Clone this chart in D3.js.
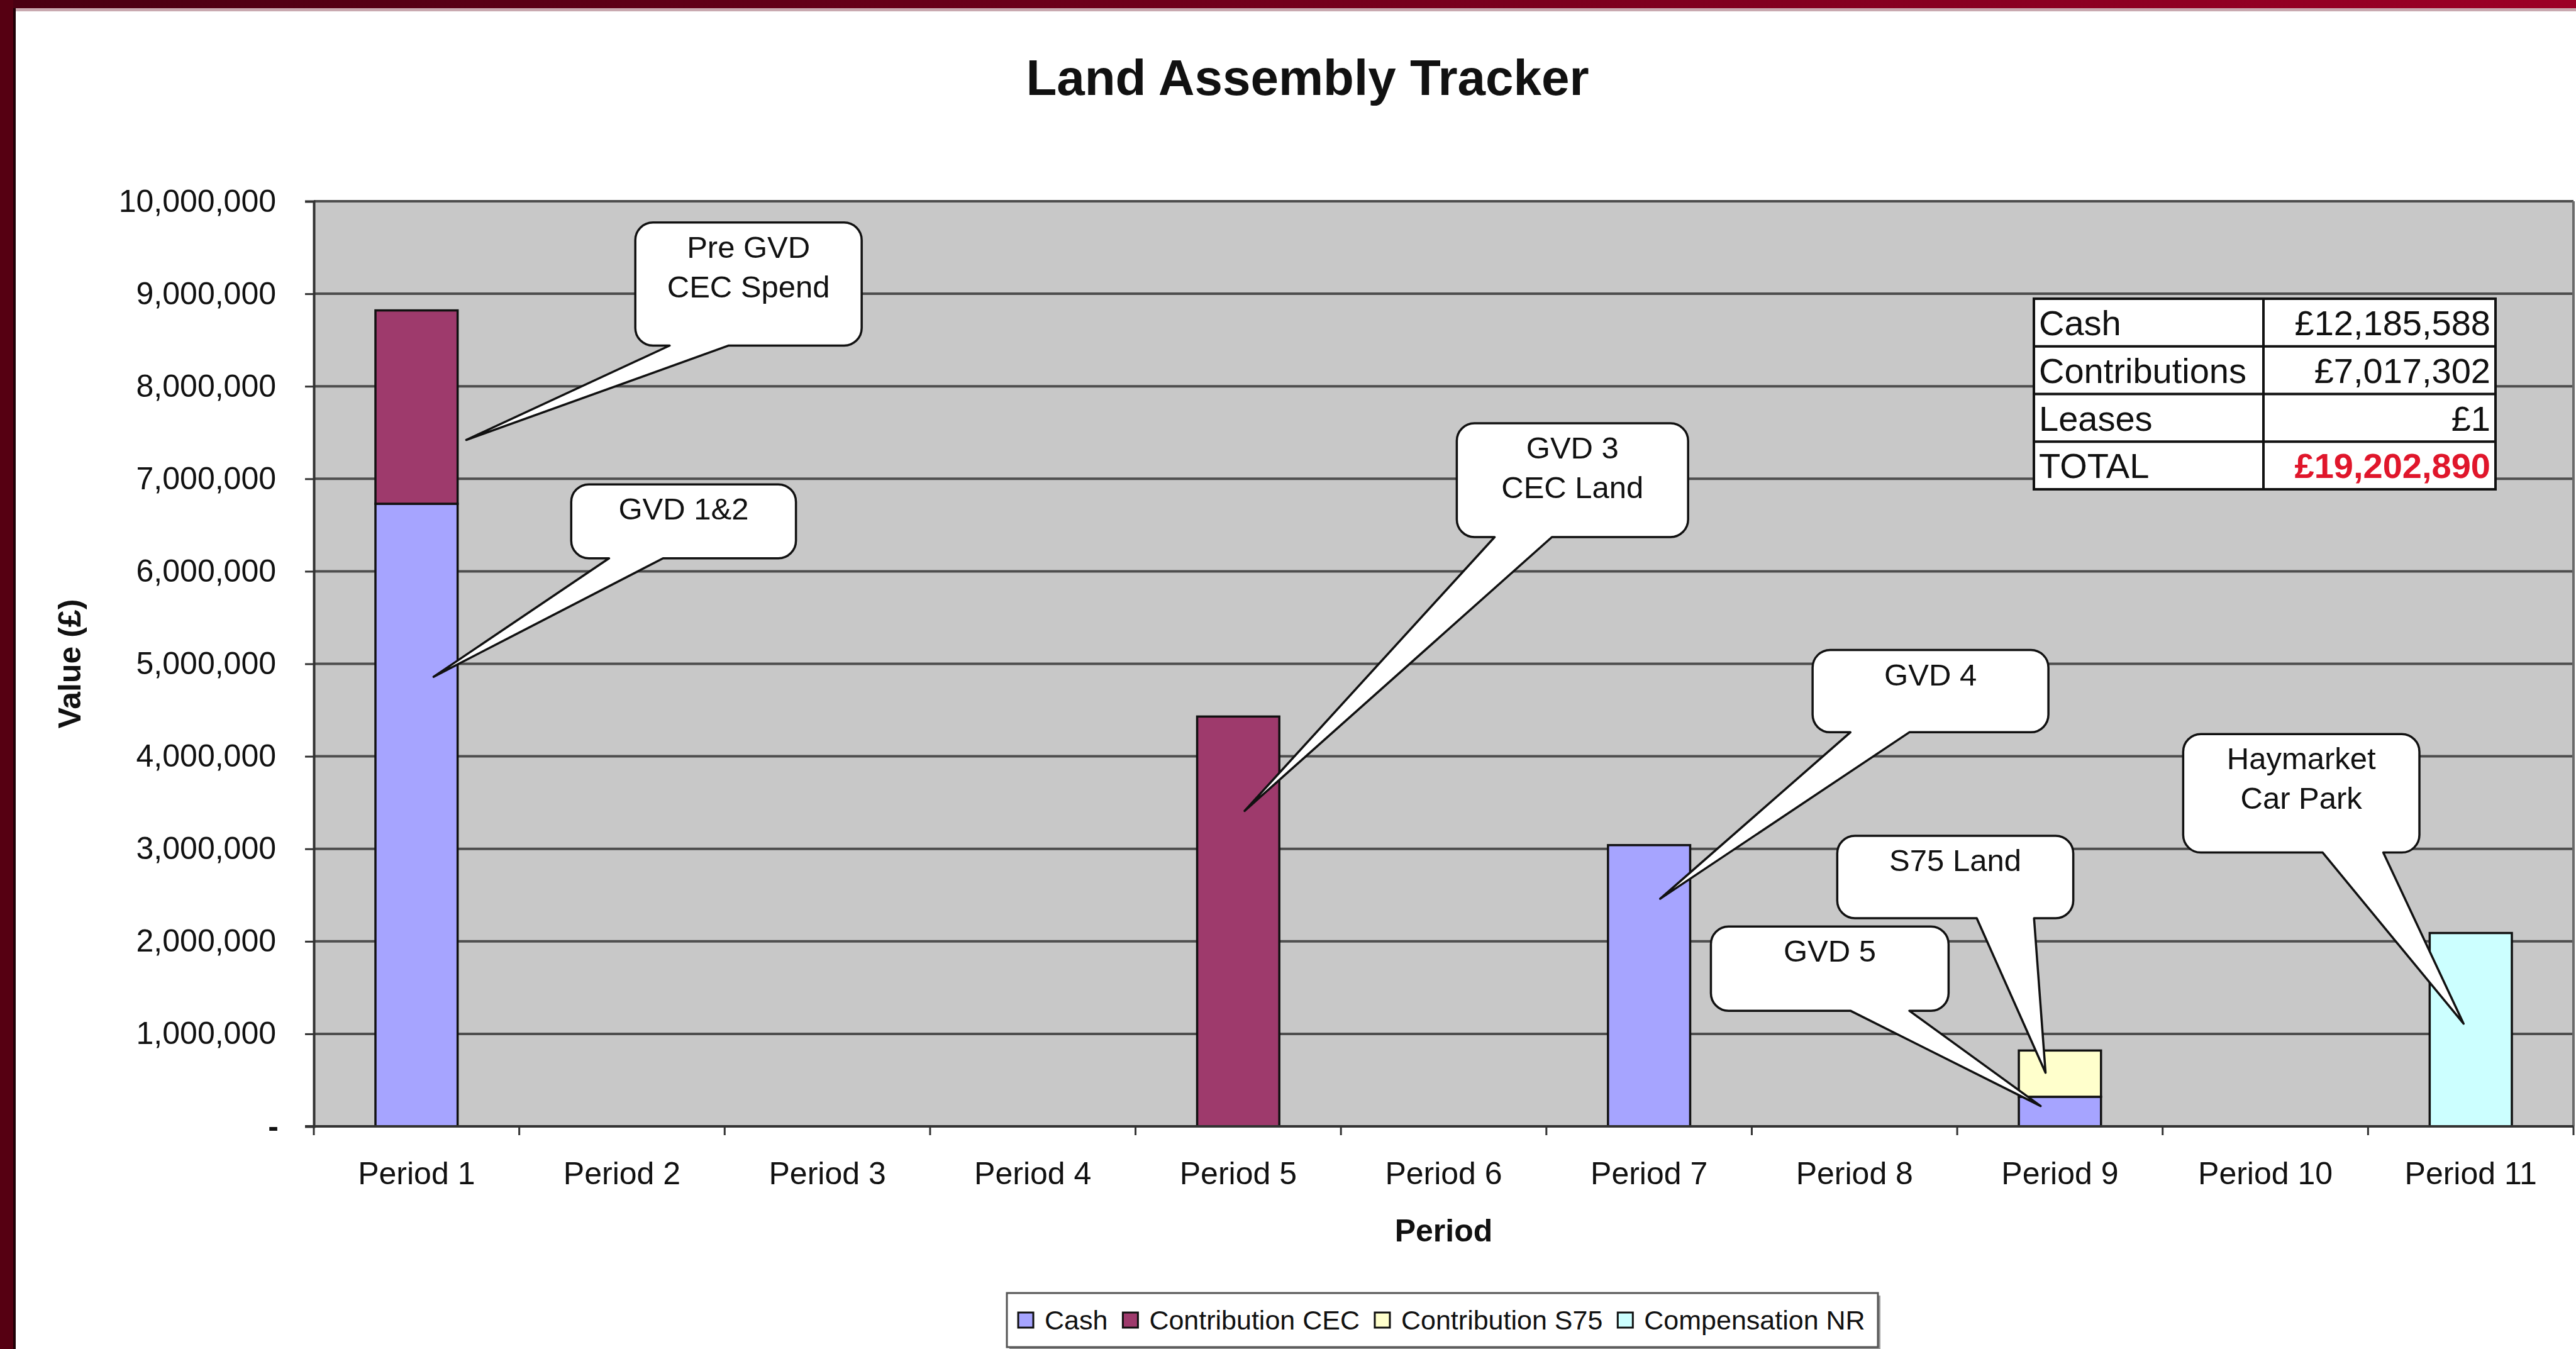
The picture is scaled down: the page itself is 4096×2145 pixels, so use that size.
<!DOCTYPE html>
<html>
<head>
<meta charset="utf-8">
<script src="https://cdn.jsdelivr.net/npm/d3@7"></script>
<style>
  body { margin: 0; background: #fff; }
  svg { display: block; }
  text { font-family: "Liberation Sans", Arial, sans-serif; fill: #111; }
</style>
</head>
<body>
<svg id="chart" width="4096" height="2145"></svg>
<script>
// data
var periods = ["Period 1","Period 2","Period 3","Period 4","Period 5","Period 6","Period 7","Period 8","Period 9","Period 10","Period 11"]
var seriesNames = ["Cash","Contribution CEC","Contribution S75","Compensation NR"]
var cash       = [6730000,0,0,0,0,0,3040000,0,320000,0,0]
var contribCEC = [2090000,0,0,0,4430000,0,0,0,0,0,0]
var contribS75 = [0,0,0,0,0,0,0,0,500000,0,0]
var compNR     = [0,0,0,0,0,0,0,0,0,0,2090000]
var yTicks = [0,1000000,2000000,3000000,4000000,5000000,6000000,7000000,8000000,9000000,10000000]

var tableLabels = ["Cash","Contributions","Leases","TOTAL"]
var tableValues = ["£12,185,588","£7,017,302","£1","£19,202,890"]

// callouts: box [u0,u1,vTop,vBottom], tail base [u,u], tip [u,v]  (u = category units, v = millions)
var calloutText = [["Pre GVD","CEC Spend"],["GVD 1&2"],["GVD 3","CEC Land"],["GVD 4"],["S75 Land"],["GVD 5"],["Haymarket","Car Park"]]
var calloutBox  = [[1.565,2.667,9.77,8.44],[1.253,2.347,6.94,6.14],[5.564,6.690,7.60,6.37],[7.296,8.444,5.15,4.26],[7.416,8.565,3.14,2.25],[6.801,7.958,2.16,1.25],[9.100,10.250,4.24,2.96]]
var calloutBase = [[1.732,2.020],[1.437,1.700],[5.748,6.027],[7.480,7.767],[8.095,8.374],[7.480,7.767],[9.779,10.074]]
var calloutTip  = [[0.742,7.42],[0.583,4.86],[4.531,3.41],[6.554,2.46],[8.430,0.58],[8.406,0.22],[10.465,1.11]]

var colors = ["#a6a4ff","#9e3a6c","#ffffcc","#ccffff"]

var svg = d3.select("#chart")
var W = 4096, H = 2145
var plot = {left: 499, right: 4092, top: 320, bottom: 1791}

// frame
var defs = svg.append("defs")
var grad = defs.append("linearGradient").attr("id","topbar")
grad.append("stop").attr("offset","0%").attr("stop-color","#4a0012")
grad.append("stop").attr("offset","100%").attr("stop-color","#9c0026")
svg.append("rect").attr("x",0).attr("y",0).attr("width",W).attr("height",13).attr("fill","url(#topbar)")
svg.append("rect").attr("x",0).attr("y",13).attr("width",W).attr("height",5).attr("fill","#c9a9b0")
svg.append("rect").attr("x",0).attr("y",0).attr("width",21).attr("height",H).attr("fill","#560012")
svg.append("rect").attr("x",21).attr("y",13).attr("width",4).attr("height",H).attr("fill","#1e0006")

var x = d3.scaleBand().domain(periods).range([plot.left, plot.right]).padding(0)
var xu = d3.scaleLinear().domain([0, 11]).range([plot.left, plot.right])
var y = d3.scaleLinear().domain([0, 10000000]).range([plot.bottom, plot.top])
var ym = function(v){ return y(v * 1000000) }

// plot area
svg.append("rect")
   .attr("x", plot.left).attr("y", plot.top)
   .attr("width", plot.right - plot.left).attr("height", plot.bottom - plot.top)
   .attr("fill", "#c8c8c8")

svg.append("g").selectAll("line").data(yTicks.slice(1)).enter()
   .append("line")
   .attr("x1", plot.left).attr("x2", plot.right)
   .attr("y1", function(d){ return y(d) }).attr("y2", function(d){ return y(d) })
   .attr("stroke", "#4e4e4e").attr("stroke-width", 4)

svg.append("line").attr("x1", plot.right).attr("x2", plot.right)
   .attr("y1", plot.top).attr("y2", plot.bottom)
   .attr("stroke", "#6a6a6a").attr("stroke-width", 4)

// stacked bars
var rows = periods.map(function(p, i){
  return {period: p, "Cash": cash[i], "Contribution CEC": contribCEC[i], "Contribution S75": contribS75[i], "Compensation NR": compNR[i]}
})
var stacked = d3.stack().keys(seriesNames)(rows)
var bw = x.bandwidth()

svg.append("g").selectAll("g").data(stacked).enter()
   .append("g")
   .attr("fill", function(d, i){ return colors[i] })
   .selectAll("rect")
   .data(function(d){ return d.filter(function(s){ return s[1] - s[0] > 0 }) })
   .enter()
   .append("rect")
   .attr("x", function(d){ return x(d.data.period) + bw * 0.3 })
   .attr("width", bw * 0.4)
   .attr("y", function(d){ return y(d[1]) })
   .attr("height", function(d){ return y(d[0]) - y(d[1]) })
   .attr("stroke", "#111")
   .attr("stroke-width", 3.5)

// y axis
var yAxis = d3.axisLeft(y).tickValues(yTicks).tickSize(14).tickPadding(46)
              .tickFormat(function(d){ return d == 0 ? "-" : d3.format(",")(d) })
var gy = svg.append("g").attr("transform", "translate(" + plot.left + ",0)").call(yAxis)
gy.select(".domain").attr("stroke", "#333").attr("stroke-width", 4)
gy.selectAll(".tick line").attr("stroke", "#333").attr("stroke-width", 3)
gy.selectAll(".tick text").attr("font-size", 50).attr("font-family", null).attr("fill", "#111")
gy.selectAll(".tick text").filter(function(d){ return d == 0 }).attr("dx", 4).attr("font-weight", "bold")

// x axis
var xAxis = d3.axisBottom(x).tickSize(0).tickPadding(0)
var gx = svg.append("g").attr("transform", "translate(0," + plot.bottom + ")").call(xAxis)
gx.select(".domain").remove()
gx.selectAll(".tick text").attr("font-size", 50).attr("font-family", null).attr("fill", "#111")
  .attr("y", 74).attr("dy", "0.35em")
svg.append("line").attr("x1", plot.left - 14).attr("x2", plot.right)
   .attr("y1", plot.bottom).attr("y2", plot.bottom)
   .attr("stroke", "#333").attr("stroke-width", 4)
svg.append("g").selectAll("line").data(periods.map(function(p){ return x(p) }).concat([plot.right])).enter()
   .append("line")
   .attr("x1", function(d){ return d }).attr("x2", function(d){ return d })
   .attr("y1", plot.bottom).attr("y2", plot.bottom + 14)
   .attr("stroke", "#333").attr("stroke-width", 3)

// titles
svg.append("text").attr("x", 2079).attr("y", 151)
   .attr("text-anchor", "middle").attr("font-size", 80).attr("font-weight", "bold")
   .text("Land Assembly Tracker")
svg.append("text").attr("x", (plot.left + plot.right) / 2).attr("y", 1956).attr("dy", "0.35em")
   .attr("text-anchor", "middle").attr("font-size", 50).attr("font-weight", "bold")
   .text("Period")
svg.append("text").attr("transform", "translate(110," + (plot.top + plot.bottom) / 2 + ") rotate(-90)")
   .attr("dy", "0.35em")
   .attr("text-anchor", "middle").attr("font-size", 50).attr("font-weight", "bold")
   .text("Value (£)")

// callouts
function calloutPath(i){
  var b = calloutBox[i], x0 = xu(b[0]), x1 = xu(b[1]), y0 = ym(b[2]), y1 = ym(b[3])
  var bl = xu(calloutBase[i][0]), br = xu(calloutBase[i][1])
  var tx = xu(calloutTip[i][0]), ty = ym(calloutTip[i][1])
  var r = 28
  var p = d3.path()
  p.moveTo(x0 + r, y0)
  p.arcTo(x1, y0, x1, y1, r)
  p.arcTo(x1, y1, x0, y1, r)
  p.lineTo(br, y1)
  p.lineTo(tx, ty)
  p.lineTo(bl, y1)
  p.arcTo(x0, y1, x0, y0, r)
  p.arcTo(x0, y0, x1, y0, r)
  p.closePath()
  return p.toString()
}

var callouts = svg.append("g").selectAll("g").data(calloutText).enter().append("g")
callouts.append("path")
        .attr("d", function(d, i){ return calloutPath(i) })
        .attr("fill", "#fff").attr("stroke", "#111").attr("stroke-width", 3.5)
        .attr("stroke-linejoin", "round")
callouts.each(function(lines, i){
  var b = calloutBox[i]
  var cx = (xu(b[0]) + xu(b[1])) / 2
  var top = ym(b[2])
  d3.select(this).selectAll("text").data(lines).enter()
    .append("text")
    .attr("x", cx)
    .attr("y", function(d, k){ return top + 39 + k * 63 })
    .attr("dy", "0.35em")
    .attr("text-anchor", "middle")
    .attr("font-size", 49)
    .text(function(d){ return d })
})

// summary table
var tb = {x: 3234, y: 475, w: 734, h: 303, split: 3599}
var rowH = tb.h / tableLabels.length
var table = svg.append("g")
table.append("rect").attr("x", tb.x).attr("y", tb.y).attr("width", tb.w).attr("height", tb.h)
     .attr("fill", "#fff").attr("stroke", "#111").attr("stroke-width", 4)
table.selectAll(".hline").data(d3.range(1, tableLabels.length)).enter()
     .append("line").attr("class", "hline")
     .attr("x1", tb.x).attr("x2", tb.x + tb.w)
     .attr("y1", function(d){ return tb.y + d * rowH }).attr("y2", function(d){ return tb.y + d * rowH })
     .attr("stroke", "#111").attr("stroke-width", 4)
table.append("line").attr("x1", tb.split).attr("x2", tb.split)
     .attr("y1", tb.y).attr("y2", tb.y + tb.h)
     .attr("stroke", "#111").attr("stroke-width", 4)
table.selectAll(".lab").data(tableLabels).enter()
     .append("text").attr("class", "lab")
     .attr("x", tb.x + 8)
     .attr("y", function(d, i){ return tb.y + (i + 0.5) * rowH })
     .attr("dy", "0.36em")
     .attr("font-size", 56)
     .text(function(d){ return d })
table.selectAll(".val").data(tableValues).enter()
     .append("text").attr("class", "val")
     .attr("x", tb.x + tb.w - 8)
     .attr("y", function(d, i){ return tb.y + (i + 0.5) * rowH })
     .attr("dy", "0.36em")
     .attr("text-anchor", "end")
     .attr("font-size", 56)
     .attr("font-weight", function(d, i){ return i == tableValues.length - 1 ? "bold" : null })
     .style("fill", function(d, i){ return i == tableValues.length - 1 ? "#e0162b" : null })
     .text(function(d){ return d })

// legend
var lg = {x: 1601, y: 2056, w: 1385, h: 86}
svg.append("rect").attr("x", lg.x + 4).attr("y", lg.y + 4).attr("width", lg.w).attr("height", lg.h).attr("fill", "#9a9a9a")
svg.append("rect").attr("x", lg.x).attr("y", lg.y).attr("width", lg.w).attr("height", lg.h)
   .attr("fill", "#fff").attr("stroke", "#555").attr("stroke-width", 3)
var lx = lg.x + 18
var lcy = lg.y + lg.h / 2
seriesNames.forEach(function(name, i){
  svg.append("rect").attr("x", lx).attr("y", lcy - 12).attr("width", 24).attr("height", 24)
     .attr("fill", colors[i]).attr("stroke", "#111").attr("stroke-width", 3)
  var t = svg.append("text").attr("x", lx + 42).attr("y", lcy).attr("dy", "0.35em")
             .attr("font-size", 43).text(name)
  lx = lx + 42 + t.node().getComputedTextLength() + 24
})
</script>
</body>
</html>
